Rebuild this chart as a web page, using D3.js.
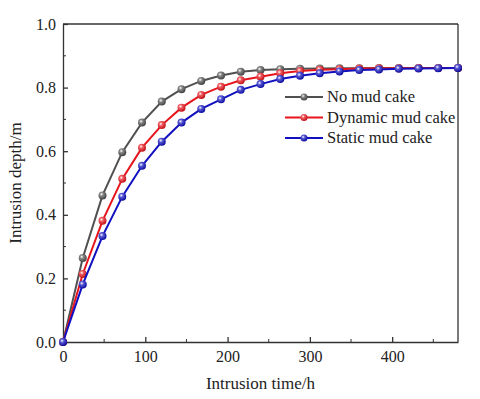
<!DOCTYPE html>
<html>
<head>
<meta charset="utf-8">
<script src="https://cdn.jsdelivr.net/npm/d3@7"></script>
<style>
  body { margin: 0; background: #fff; }
  svg text { font-family: "Liberation Serif", "DejaVu Serif", serif; fill: #222; }
</style>
</head>
<body>
<div id="chart"></div>
<script>
// data
var times = [0, 24, 48, 72, 96, 120, 144, 168, 192, 216, 240, 264, 288, 312, 336, 360, 384, 408, 432, 456, 480];
var noCake = [0, 0.264, 0.461, 0.597, 0.690, 0.756, 0.795, 0.821, 0.838, 0.850, 0.855, 0.858, 0.859, 0.860, 0.861, 0.861, 0.862, 0.862, 0.862, 0.862, 0.862];
var dynamicCake = [0, 0.214, 0.381, 0.513, 0.611, 0.682, 0.737, 0.777, 0.803, 0.823, 0.834, 0.845, 0.852, 0.856, 0.858, 0.860, 0.861, 0.861, 0.862, 0.862, 0.862];
var staticCake = [0, 0.181, 0.333, 0.457, 0.554, 0.630, 0.690, 0.733, 0.763, 0.793, 0.811, 0.827, 0.837, 0.845, 0.851, 0.855, 0.857, 0.859, 0.860, 0.861, 0.862];
var seriesNames = ["No mud cake", "Dynamic mud cake", "Static mud cake"];
var seriesColors = ["#505050", "#e8141c", "#1010c0"];
var xTicks = [0, 100, 200, 300, 400];
var yTicks = [0, 0.2, 0.4, 0.6, 0.8, 1.0];

var svgWidth = 480, svgHeight = 399;
var margin = {top: 24, right: 22, bottom: 57, left: 63};
var width = svgWidth - margin.left - margin.right;
var height = svgHeight - margin.top - margin.bottom;

var svgRoot = d3.select("#chart").append("svg")
  .attr("width", svgWidth)
  .attr("height", svgHeight);

// shaded ball markers
var defs = svgRoot.append("defs");
seriesColors.forEach(function(c, i) {
  var g = defs.append("radialGradient").attr("id", "ball" + i)
    .attr("cx", "38%").attr("cy", "35%").attr("r", "65%");
  g.append("stop").attr("offset", "0%").attr("stop-color", "#fff");
  g.append("stop").attr("offset", "35%").attr("stop-color", d3.interpolateRgb(c, "#fff")(0.3));
  g.append("stop").attr("offset", "100%").attr("stop-color", d3.color(c).darker(0.5));
});

var svg = svgRoot.append("g")
  .attr("transform", "translate(" + margin.left + "," + margin.top + ")");

var x = d3.scaleLinear().domain([0, 480]).range([0, width]);
var y = d3.scaleLinear().domain([0, 1.0]).range([height, 0]);

// minor ticks
var xMinor = d3.range(50, 480, 100);
var yMinor = d3.range(0.1, 1.0, 0.2);

var xAxis = svg.append("g")
  .attr("transform", "translate(0," + height + ")")
  .call(d3.axisBottom(x).tickValues(xTicks).tickSizeInner(-5).tickSizeOuter(0).tickPadding(9).tickFormat(d3.format("d")));
xAxis.append("g").selectAll("line").data(xMinor).enter().append("line")
  .attr("x1", function(d) { return x(d); }).attr("x2", function(d) { return x(d); })
  .attr("y1", 0).attr("y2", -3).attr("stroke", "#333");

var yAxis = svg.append("g")
  .call(d3.axisLeft(y).tickValues(yTicks).tickSizeInner(-5).tickSizeOuter(0).tickPadding(7).tickFormat(d3.format(".1f")));
yAxis.append("g").selectAll("line").data(yMinor).enter().append("line")
  .attr("y1", function(d) { return y(d); }).attr("y2", function(d) { return y(d); })
  .attr("x1", 0).attr("x2", 3).attr("stroke", "#333");

svg.selectAll(".tick text").style("font-size", "16px").attr("fill", "#222");
svg.selectAll(".domain, .tick line").attr("stroke", "#333").attr("stroke-width", 1.3);

// frame top and right
svg.append("line").attr("x1", 0).attr("x2", width).attr("y1", 0).attr("y2", 0)
  .attr("stroke", "#333").attr("stroke-width", 1.3);
svg.append("line").attr("x1", width).attr("x2", width).attr("y1", 0).attr("y2", height)
  .attr("stroke", "#333").attr("stroke-width", 1.3);

// axis titles
svg.append("text")
  .attr("x", width / 2).attr("y", height + 47)
  .attr("text-anchor", "middle").style("font-size", "17px")
  .text("Intrusion time/h");
svg.append("text")
  .attr("transform", "translate(" + (-42) + "," + (height / 2) + ") rotate(-90)")
  .attr("text-anchor", "middle").style("font-size", "17px")
  .text("Intrusion depth/m");

// series, blue ends up on top like the original
var allSeries = [noCake, dynamicCake, staticCake];
var line = d3.line()
  .x(function(d, i) { return x(times[i]); })
  .y(function(d) { return y(d); });

[0, 1, 2].forEach(function(i) {
  var vals = allSeries[i];
  svg.append("path").datum(vals)
    .attr("fill", "none")
    .attr("stroke", seriesColors[i])
    .attr("stroke-width", 2)
    .attr("d", line);
  svg.append("g").selectAll("circle").data(vals).enter().append("circle")
    .attr("cx", function(d, j) { return x(times[j]); })
    .attr("cy", function(d) { return y(d); })
    .attr("r", 4)
    .attr("fill", "url(#ball" + i + ")");
});

// legend
var legend = svg.append("g").attr("transform", "translate(222,73)");
seriesNames.forEach(function(name, i) {
  var row = legend.append("g").attr("transform", "translate(0," + (i * 20.5) + ")");
  row.append("line").attr("x1", 0).attr("x2", 38).attr("y1", 0).attr("y2", 0)
    .attr("stroke", seriesColors[i]).attr("stroke-width", 2);
  row.append("circle").attr("cx", 19).attr("cy", 0).attr("r", 3.5)
    .attr("fill", "url(#ball" + i + ")");
  row.append("text").attr("x", 42).attr("y", 5).style("font-size", "16.5px").text(name);
});
</script>
</body>
</html>
